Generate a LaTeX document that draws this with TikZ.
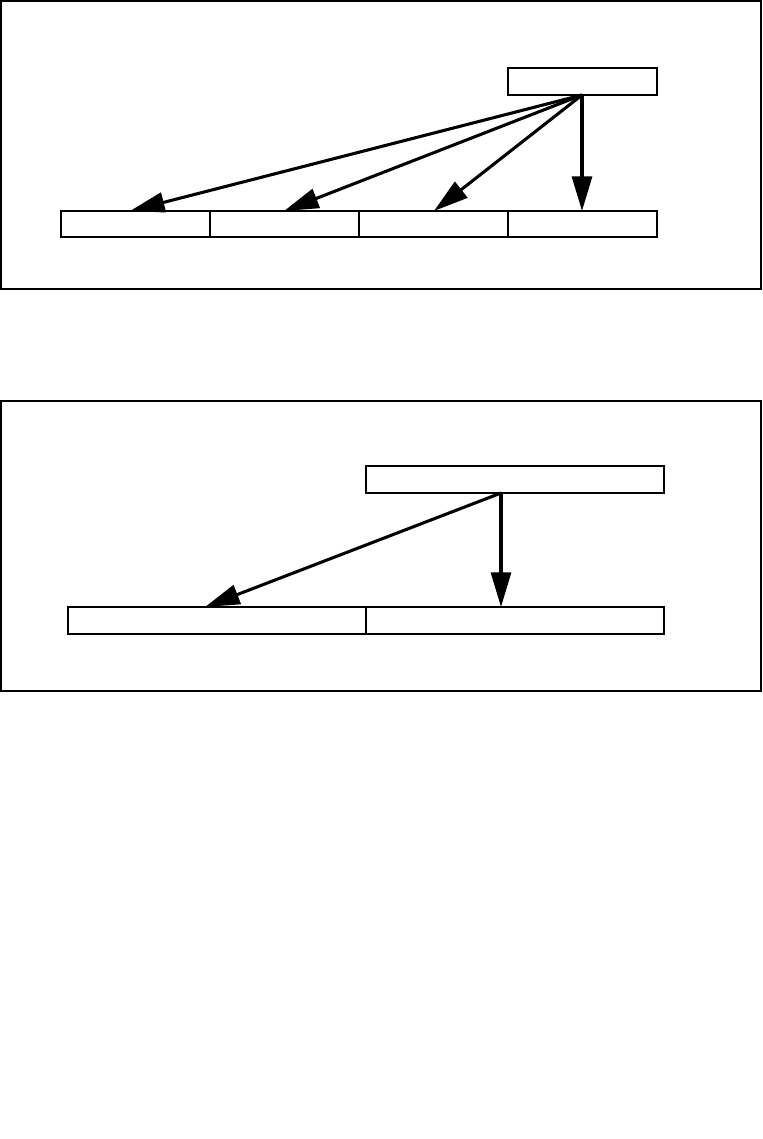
\documentclass[tikz,border=0pt]{standalone}
\usetikzlibrary{arrows.meta}
\begin{document}
\begin{tikzpicture}[x=0.75pt,y=-0.75pt,
  cell/.style={draw,line width=0.8pt,inner sep=0pt,outer sep=0pt,anchor=north west},
  link/.style={line width=2.3pt,-{Triangle[length=26pt,width=15pt]}}]
\useasboundingbox (0,0) rectangle (763,1139);
% ---- first diagram ----
\node[cell,minimum width=570pt,minimum height=216pt] (f1) at (1,1) {};
\node[cell,minimum width=111.75pt,minimum height=20.25pt] (t1) at (508,68) {};
\node[cell,minimum width=111.75pt,minimum height=19.5pt] (a1) at (61,211) {};
\node[cell,minimum width=111.75pt,minimum height=19.5pt] (a2) at (210,211) {};
\node[cell,minimum width=111.75pt,minimum height=19.5pt] (a3) at (359,211) {};
\node[cell,minimum width=111.75pt,minimum height=19.5pt] (a4) at (508,211) {};
\coordinate (s1) at (582,95);
\coordinate (e1) at (130,211);
\coordinate (e2) at (284,211);
\coordinate (e3) at (434,211);
\coordinate (e4) at (582,211);
\draw[link] (s1) -- (e1);
\draw[link] (s1) -- (e2);
\draw[link] (s1) -- (e3);
\draw[link] (s1) -- (e4);
% ---- second diagram ----
\node[cell,minimum width=570pt,minimum height=217.5pt] (f2) at (1,401) {};
\node[cell,minimum width=223.5pt,minimum height=20.25pt] (t2) at (366,466) {};
\node[cell,minimum width=223.5pt,minimum height=20.25pt] (b1) at (68,607) {};
\node[cell,minimum width=223.5pt,minimum height=20.25pt] (b2) at (366,607) {};
\coordinate (s2) at (501,493);
\coordinate (g1) at (205,607);
\coordinate (g2) at (501,607);
\draw[link] (s2) -- (g1);
\draw[link] (s2) -- (g2);
\end{tikzpicture}
\end{document}
